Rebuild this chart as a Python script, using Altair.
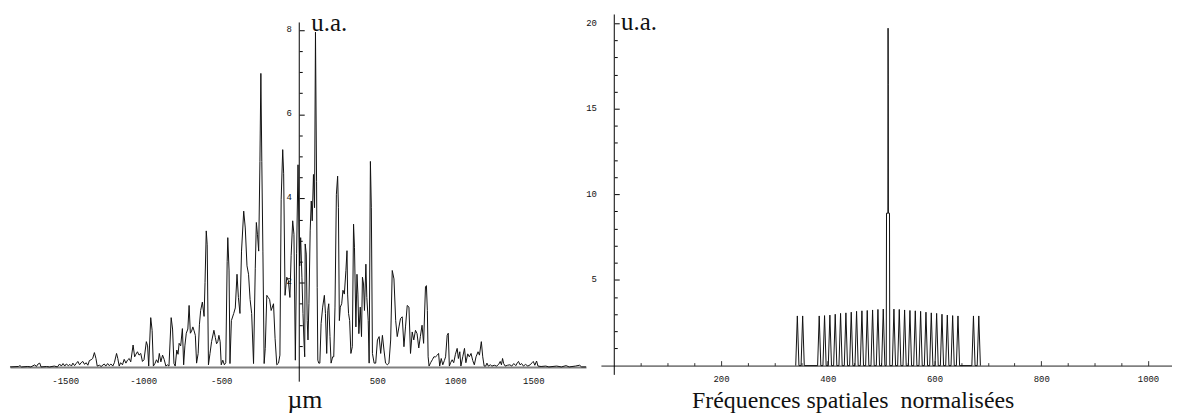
import altair as alt
import pandas as pd

# ---------------- left panel : intensity vs position (µm) ----------------
left_x = [-1854, -1800, -1790, -1780, -1740, -1720, -1695, -1685, -1674, -1663, -1655, -1620, -1600,
          -1570, -1550, -1536, -1525, -1514, -1503, -1493, -1480, -1470, -1460, -1451, -1440, -1430,
          -1419, -1408, -1398, -1387, -1376, -1366, -1355, -1345, -1334, -1324, -1313, -1303, -1295,
          -1280, -1270, -1250, -1240, -1228, -1218, -1207, -1195, -1185, -1171, -1163, -1154, -1145,
          -1133, -1122, -1111, -1101, -1090, -1080, -1065, -1055, -1047, -1037, -1027, -1016, -1005,
          -995, -980, -972, -965, -952, -943, -935, -925, -915, -905, -897, -887, -876, -866, -855,
          -845, -835, -821, -812, -803, -795, -785, -777, -770, -760, -749, -741, -733, -724, -714,
          -706, -698, -690, -682, -675, -666, -658, -648, -640, -632, -621, -610, -604, -596, -590,
          -582, -572, -562, -547, -538, -530, -522, -515, -507, -500, -490, -480, -471, -462, -458,
          -450, -444, -435, -420, -410, -399, -390, -380, -370, -356, -346, -335, -325, -315, -305,
          -293, -282, -275, -268, -260, -252, -246, -240, -233, -225, -218, -208, -199, -190, -180,
          -165, -155, -144, -133, -124, -116, -106, -100, -91, -80, -70, -60, -52, -42, -34, -25,
          -17, -8, -2, 3, 9, 17, 24, 30, 35, 38, 45, 51, 56, 62, 70, 77, 83, 91, 98, 104, 111, 115,
          119, 125, 132, 140, 150, 161, 168, 176, 183, 189, 197, 204, 214, 221, 229, 238, 246, 251,
          257, 263, 272, 280, 289, 299, 306, 310, 316, 323, 331, 340, 348, 354, 363, 370, 376, 382,
          391, 399, 405, 412, 418, 427, 433, 442, 448, 456, 462, 469, 480, 490, 501, 512, 522, 533,
          543, 553, 565, 575, 586, 596, 607, 618, 628, 639, 649, 660, 671, 681, 692, 703, 713, 724,
          734, 745, 755, 766, 776, 787, 797, 809, 815, 821, 826, 832, 842, 853, 863, 874, 885, 893,
          900, 910, 920, 930, 938, 948, 955, 962, 970, 980, 990, 1001, 1012, 1020, 1029, 1036, 1048,
          1059, 1068, 1080, 1090, 1101, 1112, 1122, 1133, 1146, 1155, 1167, 1176, 1185, 1195, 1203,
          1212, 1225, 1235, 1250, 1265, 1278, 1288, 1296, 1303, 1310, 1320, 1335, 1350, 1362, 1375,
          1388, 1398, 1405, 1415, 1425, 1437, 1450, 1465, 1480, 1492, 1500, 1510, 1521, 1530, 1550,
          1580, 1600, 1650, 1680, 1710, 1730, 1770, 1797, 1810, 1838]
left_y = [0, 0.01, 0.03, 0, 0.01, 0, 0.05, 0.01, 0.07, 0.09, 0, 0.01, 0,
          0.02, 0, 0.07, 0.02, 0.08, 0.02, 0.07, 0.03, 0.06, 0.02, 0.09, 0.03, 0.08,
          0.13, 0.05, 0.1, 0.13, 0.06, 0.1, 0.04, 0.15, 0.17, 0.2, 0.34, 0.2, 0.02,
          0.04, 0.01, 0.07, 0.02, 0.08, 0.03, 0.07, 0.02, 0.1, 0.32, 0.2, 0.02, 0.1,
          0.05, 0.18, 0.09, 0.16, 0.2, 0.12, 0.52, 0.24, 0.3, 0.36, 0.28, 0.32, 0.13,
          0.17, 0.6, 0.5, 0.02, 1.17, 0.87, 0.02, 0.08, 0.17, 0.1, 0.32, 0.12, 0.28, 0.18, 0.02,
          0.05, 0.02, 1.17, 0.9, 0.08, 0.02, 0.4, 0.3, 0.56, 0.5, 0.91, 0.05, 0.5, 0.8, 0.9,
          1.46, 0.8, 0.85, 0.95, 0.87, 0.75, 0.09, 0.32, 1.0, 1.34, 1.54, 1.2, 2.0, 3.23, 2.9,
          0.05, 0.32, 0.6, 0.87, 0.7, 0.55, 0.6, 0.75, 0.6, 0.05, 0.16, 0.05, 0.1, 2.5, 3.07,
          2.3, 0.08, 1.1, 1.27, 1.4, 2.2, 1.65, 1.27, 2.75, 3.7, 3.3, 2.4, 2.2, 1.6, 1.27,
          0.08, 2.33, 3.43, 3.15, 2.75, 4.88, 6.97, 4.88, 2.75, 0.08, 0.44, 1.7, 1.65, 1.6, 1.34,
          1.5, 0.68, 0.05, 0.09, 0.28, 3.98, 5.16, 4.6, 1.7, 2.13, 2.05, 1.65, 2.65, 3.47, 3.15, 0.16,
          2.7, 4.8, 3.3, 2.4, 3.07, 2.13, 1.27, 0.64, 0.24, 2.92, 2.68, 1.1, 0.64, 1.5, 3.23, 3.94, 3.47, 4.57, 3.78, 7.95, 4.41, 1.89,
          0.16, 0.09, 0.09, 1.03, 1.42, 1.7, 1.27, 0.32, 1.34, 1.5, 0.72, 0.09, 0.24, 0.24, 1.42, 4.1, 4.53, 3.78,
          1.1, 1.42, 1.5, 1.82, 1.73, 2.29, 2.76, 1.73, 1.27, 1.1, 0.32, 0.48, 3.39, 2.83, 0.95, 2.2, 1.73, 0.79,
          1.42, 0.72, 2.13, 1.97, 1.34, 2.44, 1.65, 1.1, 0.09, 4.88, 3.78, 0.32, 0.09, 0.09, 0.64, 0.72, 0.32, 0.75,
          0.4, 0.09, 0.05, 0.09, 0.64, 2.29, 2.09, 1.1, 0.72, 0.95, 1.15, 1.19, 0.48, 0.95, 1.46, 1.42, 0.32, 0.83,
          0.64, 0.87, 0.79, 0.45, 0.72, 0.99, 0.56, 1.9, 1.93, 1.34, 0.24, 0.02, 0.1, 0.17, 0.24, 0.24, 0.28, 0.32,
          0.02, 0.2, 0.05, 0.15, 0.24, 0.75, 0.8, 0.02, 0.1, 0.17, 0.1, 0.3, 0.44, 0.2, 0.36, 0.02, 0.24,
          0.44, 0.1, 0.31, 0.24, 0.32, 0.15, 0.05, 0.24, 0.36, 0.28, 0.6, 0.24, 0.02, 0.02, 0.09,
          0.02, 0.05, 0.02, 0.04, 0.02, 0.06, 0.13, 0.05, 0.2, 0.08, 0.02, 0.04, 0.05, 0.02, 0.08,
          0.03, 0.1, 0.13, 0.05, 0.08, 0.02, 0.06, 0.02, 0.05, 0.1, 0.13, 0.04, 0.14, 0.02, 0.01,
          0.02, 0, 0.02, 0, 0.03, 0, 0.02, 0.04, 0, 0]
left_x_domain = [-1854, 1838]
left_y_domain = [-0.354, 8.467]
left_yaxis_extent = [-0.35, 8.18]
left_xticks = [-1500, -1000, -500, 500, 1000, 1500]
left_yticks = [2, 4, 6, 8]
left_yminor = [0.5, 1, 1.5, 2, 2.5, 3, 3.5, 4, 4.5, 5, 5.5, 6, 6.5, 7, 7.5, 8]

# ---------------- right panel : spatial spectrum ----------------
right_peak_x = [343, 353, 384, 394, 404, 414, 424, 434, 444, 454, 464, 474, 484, 494, 504,
                524, 534, 544, 554, 564, 574, 584, 594, 604, 614, 624, 634, 644, 673, 683]
right_peak_h = [2.9, 2.9, 2.9, 2.92, 2.95, 3.0, 3.05, 3.08, 3.12, 3.17, 3.2, 3.22, 3.25, 3.28, 3.3,
                3.3, 3.28, 3.25, 3.22, 3.2, 3.17, 3.12, 3.08, 3.05, 3.0, 2.95, 2.92, 2.9, 2.9, 2.9]
right_center_x = [509.6, 510.1, 512.7, 513.0, 513.3, 513.6, 515.7, 516.2]
right_center_y = [0, 8.9, 8.9, 19.7, 16.4, 8.9, 8.9, 0]
right_half_base = 3.0
right_x_domain = [-25, 1045]
right_y_domain = [-0.54, 20.74]
right_yaxis_extent = [-0.54, 20.5]
right_xticks = [200, 400, 600, 800, 1000]
right_xminor = list(range(50, 1001, 50))
right_yticks = [5, 10, 15, 20]
right_yminor = list(range(1, 21))

W1, H1 = 580, 374
W2, H2 = 575, 367

mono = "Liberation Mono"
serif = "Liberation Serif"

# ---------- left chart ----------
dfL = pd.DataFrame({"x": left_x, "y": left_y})
xs1 = alt.Scale(domain=left_x_domain, nice=False, zero=False)
ys1 = alt.Scale(domain=left_y_domain, nice=False, zero=False)
x0_left = W1 * (0 - left_x_domain[0]) / (left_x_domain[1] - left_x_domain[0])
y0_left = H1 * (left_y_domain[1] - 0) / (left_y_domain[1] - left_y_domain[0])

lineL = alt.Chart(dfL).mark_line(color="#111", strokeWidth=1).encode(
    x=alt.X("x:Q", scale=xs1, axis=alt.Axis(
        orient="bottom", offset=-(H1 - y0_left), values=left_xticks,
        labelExpr="datum.value + ''", ticks=False, tickSize=0, labelPadding=14,
        labelBaseline="middle", labelFont=mono, labelFontSize=9, labelColor="#111",
        domainColor="#808080", domainWidth=2, grid=False,
        title="µm", titleFont=serif, titleFontSize=26, titleFontWeight="normal",
        titleColor="#111", titleX=296.5, titleY=41, titleAlign="center",
        titleBaseline="alphabetic")),
    y=alt.Y("y:Q", scale=ys1, axis=alt.Axis(
        orient="left", offset=-x0_left, values=left_yticks, labelExpr="datum.value + ''",
        ticks=False, tickSize=0, labelPadding=8, labelBaseline="middle", labelOffset=-2,
        labelFont=mono, labelFontSize=9, labelColor="#111", domain=False, grid=False,
        title="u.a.", titleAngle=0, titleFont=serif, titleFontSize=25, titleFontWeight="normal",
        titleColor="#111", titleX=11.7, titleY=20, titleAlign="left", titleBaseline="alphabetic")),
)

dfLA = pd.DataFrame({"x": [0], "y": [left_yaxis_extent[0]], "y2": [left_yaxis_extent[1]]})
ruleL = alt.Chart(dfLA).mark_rule(color="black", strokeWidth=1).encode(
    x=alt.X("x:Q", scale=xs1, axis=None),
    y=alt.Y("y:Q", scale=ys1, axis=alt.Axis(
        orient="right", offset=-(W1 - x0_left), values=left_yminor, labels=False,
        domain=False, grid=False, title=None, ticks=True, tickColor="black", tickWidth=1,
        tickSize={"condition": {"test": "datum.value % 2 === 0", "value": 5}, "value": 3})),
    y2="y2:Q",
)

left = alt.layer(lineL, ruleL).resolve_axis(x="independent", y="independent").properties(
    width=W1, height=H1)

# ---------- right chart ----------
rx, ry = [], []
for px, ph in zip(right_peak_x, right_peak_h):
    rx += [px - right_half_base, px, px + right_half_base]
    ry += [0, ph, 0]
rx += right_center_x
ry += right_center_y
dfR = pd.DataFrame({"x": rx, "y": ry}).sort_values("x").reset_index(drop=True)
dfR["order"] = range(len(dfR))

xs2 = alt.Scale(domain=right_x_domain, nice=False, zero=False)
ys2 = alt.Scale(domain=right_y_domain, nice=False, zero=False)
x0_right = W2 * (0 - right_x_domain[0]) / (right_x_domain[1] - right_x_domain[0])
y0_right = H2 * (right_y_domain[1] - 0) / (right_y_domain[1] - right_y_domain[0])

lineR = alt.Chart(dfR).mark_line(color="#111", strokeWidth=1).encode(
    x=alt.X("x:Q", scale=xs2, axis=alt.Axis(
        orient="bottom", offset=-(H2 - y0_right), values=right_xticks,
        labelExpr="datum.value + ''", ticks=False, tickSize=0, labelPadding=13,
        labelBaseline="middle", labelFont=mono, labelFontSize=9, labelColor="#111",
        domainColor="#808080", domainWidth=2, grid=False,
        title="Fréquences spatiales\u00a0 normalisées", titleFont=serif, titleFontSize=24,
        titleFontWeight="normal", titleColor="#111", titleX=253.5, titleY=42.3,
        titleAlign="center", titleBaseline="alphabetic")),
    y=alt.Y("y:Q", scale=ys2, axis=alt.Axis(
        orient="left", offset=-x0_right, values=right_yticks, labelExpr="datum.value + ''",
        ticks=False, tickSize=0, labelPadding=18, labelBaseline="middle", labelOffset=-1,
        labelFont=mono, labelFontSize=9, labelColor="#111", domain=False, grid=False,
        title="u.a.", titleAngle=0, titleFont=serif, titleFontSize=25, titleFontWeight="normal",
        titleColor="#111", titleX=6.3, titleY=19.5, titleAlign="left", titleBaseline="alphabetic")),
    order="order:Q",
)

dfRA = pd.DataFrame({"x": [0], "y": [right_yaxis_extent[0]], "y2": [right_yaxis_extent[1]]})
ruleR = alt.Chart(dfRA).mark_rule(color="black", strokeWidth=1).encode(
    x=alt.X("x:Q", scale=xs2, axis=alt.Axis(
        orient="top", offset=-y0_right, values=right_xminor, labels=False, domain=False,
        grid=False, title=None, ticks=True, tickColor="#333", tickWidth=1,
        tickSize={"condition": {"test": "datum.value % 200 === 0", "value": 5}, "value": 3})),
    y=alt.Y("y:Q", scale=ys2, axis=alt.Axis(
        orient="right", offset=-(W2 - x0_right), values=right_yminor, labels=False,
        domain=False, grid=False, title=None, ticks=True, tickColor="black", tickWidth=1,
        tickSize={"condition": {"test": "datum.value % 5 === 0", "value": 5}, "value": 3})),
    y2="y2:Q",
)

right = alt.layer(lineR, ruleR).resolve_axis(x="independent", y="independent").properties(
    width=W2, height=H2)

chart = alt.hconcat(left, right, spacing=15, bounds="flush").properties(
    padding=0, background="white").configure_view(stroke=None)

chart.save("out.html", embed_options={"renderer": "svg", "actions": False})
